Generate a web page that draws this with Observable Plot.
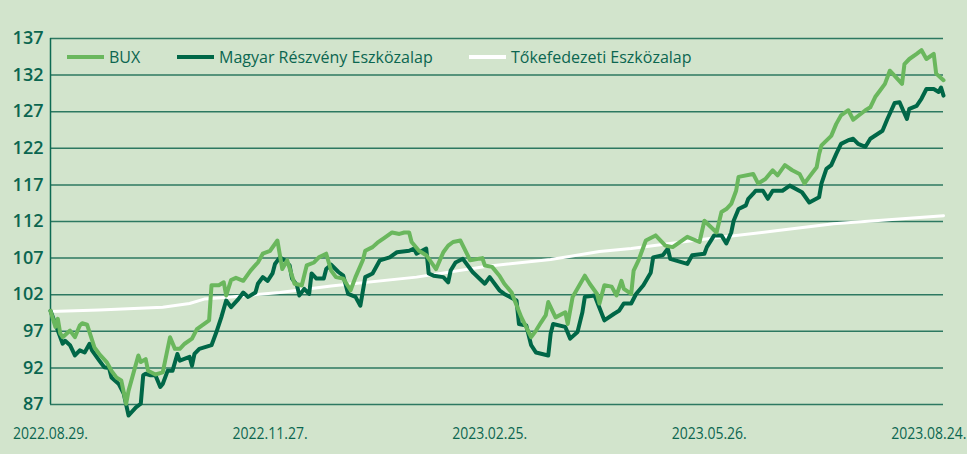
<!DOCTYPE html>
<html><head><meta charset="utf-8">
<script src="https://cdn.jsdelivr.net/npm/d3@7"></script>
<script src="https://cdn.jsdelivr.net/npm/@observablehq/plot@0.6"></script>
<style>
html,body{margin:0;padding:0;background:#ffffff;}
#wrap{position:relative;width:975px;height:454px;background:linear-gradient(to right,#d2e4cc 0,#d2e4cc 967px,#ffffff 967px);overflow:hidden;}
#legend{position:absolute;top:0;left:0;width:100%;height:0;font-family:"Open Sans",sans-serif;font-size:16px;color:#0b6650;}
.item{position:absolute;top:47px;display:flex;align-items:center;height:20px;white-space:nowrap;}
.sw{display:inline-block;width:37px;height:4px;margin-right:5px;}
</style></head><body>
<div id="wrap"><div id="chart"></div><div id="legend"></div></div>
<script>
// ---- data ----
const seriesNames = ["BUX", "Magyar Részvény Eszközalap", "Tőkefedezeti Eszközalap"];
const seriesColors = ["#6ab75d", "#006747", "#ffffff"];
const startDate = "2022-08-29";
const endDate = "2023-08-30";
const xTickLabels = ["2022.08.29.", "2022.11.27.", "2023.02.25.", "2023.05.26.", "2023.08.24."];
const yTicks = [87, 92, 97, 102, 107, 112, 117, 122, 127, 132, 137];

// day offsets from startDate
const buxDays = [0,2,3,4,5,8,10,12,13,15,18,20,23,25,27,29,31,32,36,37,39,40,43,46,47,49,51,53,55,58,60,65,66,69,71,72,74,76,79,82,85,87,90,93,95,97,100,103,105,108,110,113,115,117,120,123,125,128,129,132,134,137,140,143,145,147,148,151,154,158,161,163,165,168,172,177,178,181,184,186,189,190,193,197,199,201,203,204,207,211,212,214,219,221,224,225,227,230,232,234,235,238,239,241,244,248,252,255,261,266,268,273,275,277,279,281,282,288,290,293,296,298,301,304,307,309,311,314,315,316,320,322,324,327,329,334,336,338,340,342,344,346,349,350,352,355,357,359,362,363,366];
const buxValues = [99.8,97.6,98.7,96.7,96.2,97.1,96.2,97.8,98.1,97.9,94.8,93.9,92.8,91.6,90.7,90.3,87.1,88.9,93.7,92.8,93.2,91.6,91.1,91.4,93.0,96.2,94.6,94.6,95.3,96.0,97.3,98.5,103.3,103.3,103.7,101.9,104.0,104.3,103.9,105.3,106.4,107.6,108.0,109.4,105.5,106.7,103.5,103.3,106.0,106.4,107.1,107.6,105.3,104.4,104.2,102.6,104.4,106.7,108.0,108.5,109.1,109.8,110.5,110.3,110.5,110.5,109.2,108.0,107.4,105.5,107.8,108.7,109.2,109.4,106.7,107.0,106.0,105.8,104.6,103.5,102.3,101.4,98.9,96.2,97.1,98.2,99.2,101.0,98.9,99.6,98.0,101.7,104.6,103.5,102.1,100.8,103.3,103.1,101.9,103.9,102.8,102.1,105.3,106.7,109.4,110.1,108.7,108.5,109.9,109.2,112.1,110.5,113.3,113.7,114.4,116.2,118.1,118.5,117.2,117.8,119.0,118.3,119.7,119.0,118.5,117.2,118.1,119.4,121.2,122.4,123.7,125.3,126.5,127.2,125.9,127.2,127.6,129.0,129.9,130.8,132.6,131.9,130.8,133.5,134.2,134.9,135.4,134.2,134.9,132.2,131.3];

const fundDays = [0,3,5,6,8,10,12,14,16,17,20,22,24,25,28,30,32,35,37,38,39,41,43,45,46,48,50,52,53,57,58,59,61,66,68,70,72,74,77,79,81,84,85,87,89,91,92,94,96,98,99,101,102,104,106,107,109,112,113,115,118,120,122,125,127,129,132,135,139,142,147,149,150,154,155,157,161,163,164,166,169,173,178,180,184,186,191,192,195,197,199,204,205,206,211,213,216,218,219,223,227,231,233,235,238,240,243,246,247,251,253,254,261,263,268,269,272,275,277,279,280,282,285,286,288,289,292,294,296,300,303,308,311,315,316,318,320,322,324,327,329,331,334,336,341,343,346,348,351,352,355,357,359,362,364,365,366];
const fundValues = [99.8,97.1,95.3,95.7,95.1,93.7,94.4,94.1,95.3,94.4,93.0,92.1,92.0,90.7,89.8,88.5,85.5,86.6,87.1,91.0,91.2,91.0,91.0,89.4,89.8,91.6,91.6,93.9,93.0,93.5,92.3,93.9,94.6,95.1,96.9,98.9,101.2,100.3,101.4,102.3,101.7,102.3,103.5,104.4,103.9,104.9,106.2,107.1,106.7,106.0,104.2,103.3,101.9,102.8,102.1,104.9,104.2,104.2,105.5,106.1,105.1,104.6,102.1,101.7,100.5,104.4,104.9,106.7,107.1,107.8,108.0,108.3,107.6,108.3,104.9,104.6,104.4,103.7,105.3,106.4,106.9,105.1,103.5,104.4,102.6,102.1,101.2,98.0,97.8,95.1,94.1,93.7,96.7,98.0,97.6,96.0,96.9,99.6,101.7,101.9,98.5,99.4,99.8,100.8,100.8,102.1,103.3,105.0,107.1,107.4,108.3,106.9,106.2,107.4,107.6,108.5,110.1,110.1,109.0,110.5,112.1,113.7,114.2,115.1,115.8,116.2,116.2,115.1,116.2,116.2,116.9,116.0,114.6,115.3,117.2,119.2,119.7,121.2,122.6,123.1,123.3,122.6,122.2,123.3,124.4,126.0,128.2,128.3,126.0,127.4,127.8,128.8,130.1,130.1,129.7,130.3,129.2];

const capDays = [0,20,46,57,63,74,94,115,150,179,205,225,238,266,299,321,366];
const capValues = [99.7,99.9,100.3,100.8,101.4,101.7,102.3,103.2,104.4,105.9,106.8,107.9,108.3,109.5,110.8,111.7,112.8];

// ---- build ----
const parseISO = d3.utcParse("%Y-%m-%d");
const parseTick = d3.utcParse("%Y.%m.%d.");
const t0 = parseISO(startDate), t1 = parseISO(endDate);
const rows = (days, vals, name) => days.map((d, i) => ({date: d3.utcDay.offset(t0, d), value: vals[i], series: name}));
const bux = rows(buxDays, buxValues, seriesNames[0]);
const fund = rows(fundDays, fundValues, seriesNames[1]);
const cap = rows(capDays, capValues, seriesNames[2]);
const tickDates = xTickLabels.map(parseTick);
const fmt = d3.utcFormat("%Y.%m.%d.");

const textColor = "#0b6650";
const gridColor = "#2d7861";

const chart = Plot.plot({
  width: 975,
  height: 454,
  marginLeft: 50,
  marginRight: 32,
  marginTop: 38,
  marginBottom: 50,
  style: {background: "transparent", color: textColor, fontFamily: "'Open Sans', sans-serif", overflow: "visible"},
  x: {type: "utc", domain: [t0, t1]},
  y: {domain: [87, 137]},
  marks: [
    Plot.ruleY(yTicks, {stroke: gridColor, strokeWidth: 1.5}),
    Plot.ruleX([t0], {stroke: "#0d6a52", strokeWidth: 1.5}),
    Plot.axisY({ticks: yTicks, tickSize: 0, tickPadding: 7, fontSize: 18, fontWeight: 600, fill: textColor, label: null, fontFamily: "'Open Sans', sans-serif"}),
    Plot.axisX({ticks: tickDates, tickFormat: fmt, tickSize: 0, tickPadding: 23, fontSize: 16.5, fill: textColor, label: null, fontFamily: "'Open Sans', sans-serif"}),
    Plot.line(cap, {x: "date", y: "value", stroke: seriesColors[2], strokeWidth: 3}),
    Plot.line(fund, {x: "date", y: "value", stroke: seriesColors[1], strokeWidth: 4}),
    Plot.line(bux, {x: "date", y: "value", stroke: seriesColors[0], strokeWidth: 4})
  ]
});
// condense the date labels to the narrow width seen in the reference
d3.select(chart).selectAll('g[aria-label="x-axis tick label"] text')
  .attr("textLength", 75).attr("lengthAdjust", "spacingAndGlyphs");
document.getElementById("chart").appendChild(chart);

// legend
const legendLefts = [67, 177, 469];
const legend = document.getElementById("legend");
seriesNames.forEach((name, i) => {
  const item = document.createElement("div");
  item.className = "item";
  item.style.left = legendLefts[i] + "px";
  const sw = document.createElement("span");
  sw.className = "sw";
  sw.style.background = seriesColors[i];
  const tx = document.createElement("span");
  tx.textContent = name;
  item.appendChild(sw);
  item.appendChild(tx);
  legend.appendChild(item);
});
</script></body></html>
